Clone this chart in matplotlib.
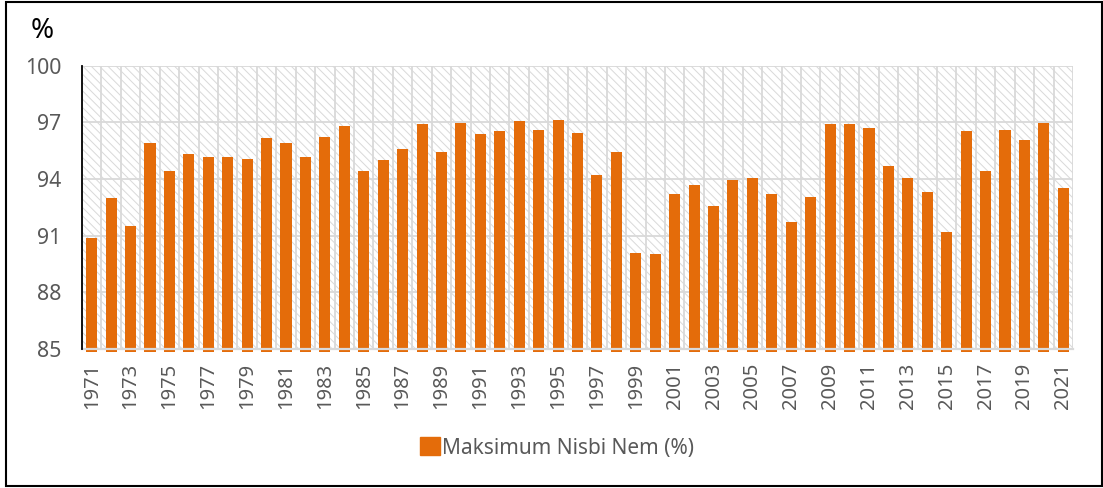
import matplotlib
matplotlib.use("Agg")
import matplotlib.pyplot as plt
from matplotlib.patches import Rectangle, Patch

years = list(range(1971, 2022))
values = [90.9, 93.0, 91.5, 95.9, 94.4, 95.3, 95.15, 95.15, 95.05, 96.15,
          95.9, 95.15, 96.2, 96.8, 94.4, 95.0, 95.6, 96.9, 95.45, 96.95,
          96.4, 96.55, 97.05, 96.6, 97.15, 96.45, 94.2, 95.45, 90.1, 90.05,
          93.2, 93.7, 92.55, 93.95, 94.05, 93.2, 91.7, 93.05, 96.9, 96.9,
          96.7, 94.7, 94.05, 93.3, 91.2, 96.55, 94.4, 96.6, 96.05, 96.95,
          93.5]
yticks = [85, 88, 91, 94, 97, 100]
series_name = "Maksimum Nisbi Nem (%)"

plt.rcParams['font.family'] = ['Noto Sans', 'DejaVu Sans']
plt.rcParams['hatch.linewidth'] = 0.7
plt.rcParams['hatch.color'] = '#d9d9d9'

orange = '#E46C0A'
grid = '#d9d9d9'
txt = '#595959'

fig = plt.figure(figsize=(11.03, 4.88), dpi=100)
ax = fig.add_axes([82/1103, 1-349/488, (1073-82)/1103, (349-65.7)/488])

ax.set_xlim(-0.5, len(years)-0.5)
ax.set_ylim(85, 100)

# hatched plot background
ax.add_patch(Rectangle((0, 0), 1, 1, transform=ax.transAxes, facecolor='white',
                       edgecolor=grid, hatch='\\\\\\\\', linewidth=0, zorder=0))

# gridlines
for y in yticks[1:]:
    ax.axhline(y, color=grid, linewidth=1.3, zorder=1)
for i in range(len(years)+1):
    ax.axvline(i-0.5, color=grid, linewidth=1.3, zorder=1)

x = list(range(len(years)))
base = 84.85
ax.bar(x, [v-base for v in values], bottom=base, width=0.57, color=orange,
       zorder=2, clip_on=False)

ax.axhline(85, color=grid, linewidth=1.6, zorder=3, clip_on=False)

for s in ['top', 'right', 'bottom']:
    ax.spines[s].set_visible(False)
ax.spines['left'].set_color('black')
ax.spines['left'].set_linewidth(1.3)
ax.spines['left'].set_zorder(4)

ax.set_yticks(yticks)
ax.set_yticklabels([str(t) for t in yticks], fontsize=15.3, color=txt)
ax.set_xticks(x[::2])
ax.set_xticklabels([str(years[i]) for i in x[::2]], rotation=90, fontsize=14.5, color=txt)
ax.tick_params(axis='both', length=0)
ax.tick_params(axis='y', pad=15)
ax.tick_params(axis='x', pad=10)

fig.text(42/1103, 1-31/488, '%', fontsize=20, color='black', ha='center', va='center')

handle = Patch(facecolor=orange, edgecolor=orange)
fig.legend([handle], [series_name], loc='center', bbox_to_anchor=(557/1103, 1-448/488),
           frameon=False, fontsize=15, labelcolor=txt, handlelength=0.95,
           handleheight=0.95, handletextpad=0.1)

fig.add_artist(Rectangle((6/1103, 2/488), (1102-6)/1103, (486-2)/488,
                         transform=fig.transFigure, fill=False, edgecolor='black',
                         linewidth=1.5))

fig.savefig('out.png', dpi=100)
